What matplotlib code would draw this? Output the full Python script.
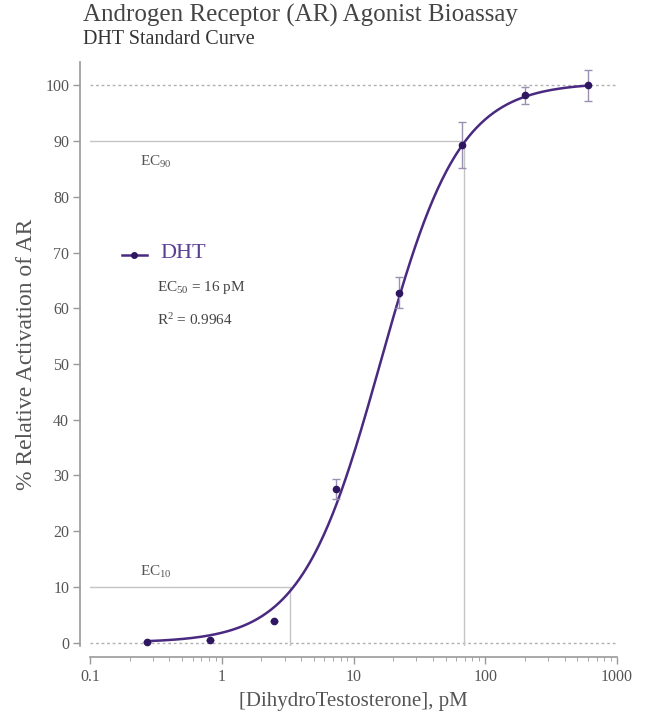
import numpy as np
import matplotlib
matplotlib.use("Agg")
import matplotlib.pyplot as plt

plt.rcParams['font.family'] = ['Liberation Serif', 'DejaVu Serif']
plt.rcParams['mathtext.fontset'] = 'custom'
plt.rcParams['mathtext.rm'] = 'Liberation Serif'
plt.rcParams['mathtext.it'] = 'Liberation Serif:italic'
plt.rcParams['mathtext.bf'] = 'Liberation Serif:bold'

# ---- data ----
conc_pM = [0.27, 0.82, 2.5, 7.4, 22, 67, 200, 600]
activation = [0.2, 0.5, 3.8, 27.6, 62.8, 89.3, 98.2, 100.0]
errors = [0.0, 0.0, 0.0, 1.8, 2.8, 4.2, 1.6, 2.7]
ec50 = 16.0
hill = 1.45
bottom_fit = 0.0
top_fit = 100.5
ec10 = 3.3
ec90 = 69.0
r2 = "0.9964"
x_ticks = [0.1, 1, 10, 100, 1000]
x_ticklabels = ["0.1", "1", "10", "100", "1000"]
y_ticks = list(range(0, 101, 10))

purple = "#4a2a80"
dark_purple = "#2e1760"
gray_txt = "#555555"

fig = plt.figure(figsize=(6.5, 7.2), dpi=100)
ax = fig.add_axes([90/650, 0.1028, (617-90)/650, 0.811])

# reference lines
ax.axhline(100, color="#b0b0b0", lw=1.0, ls=(0, (2, 2)), zorder=1)
ax.axhline(0, color="#b0b0b0", lw=1.0, ls=(0, (2, 2)), zorder=1)
ax.plot([0.1, ec90], [90, 90], color="#c4c4c4", lw=1.0, zorder=1)
ax.plot([ec90, ec90], [-0.6, 90], color="#c4c4c4", lw=1.0, zorder=1)
ax.plot([0.1, ec10], [10, 10], color="#c4c4c4", lw=1.0, zorder=1)
ax.plot([ec10, ec10], [-0.6, 10], color="#c4c4c4", lw=1.0, zorder=1)

# fitted curve
xs = np.logspace(np.log10(conc_pM[0]), np.log10(conc_pM[-1]), 400)
ys = bottom_fit + (top_fit - bottom_fit) / (1 + (ec50 / xs) ** hill)
ax.plot(xs, ys, color=purple, lw=1.8, zorder=3)

# data points with error bars
ax.errorbar(conc_pM, activation, yerr=errors, fmt="o", color=dark_purple,
            ms=4.5, ecolor="#9a90b0", elinewidth=1.0, capsize=3, capthick=1.0, zorder=4)

ax.set_xscale("log")
ax.set_xlim(0.1, 1000)
ax.set_ylim(-0.6, 104.2)
ax.set_xticks(x_ticks)
ax.set_xticklabels(x_ticklabels)
ax.set_yticks(y_ticks)

for s in ["top", "right"]:
    ax.spines[s].set_visible(False)
ax.spines["left"].set_position(("outward", 7))
ax.spines["bottom"].set_position(("outward", 8))
for s in ["left", "bottom"]:
    ax.spines[s].set_color("#999999")
    ax.spines[s].set_linewidth(1.2)
ax.tick_params(axis="both", colors="#999999", labelcolor=gray_txt, labelsize=11.5,
               length=5, width=1.0)
ax.tick_params(axis="y", pad=3)
ax.tick_params(axis="x", which="minor", length=3, color="#999999")

ax.set_xlabel("[DihydroTestosterone], pM", fontsize=15, color=gray_txt, labelpad=5)
ax.set_ylabel("% Relative Activation of AR", fontsize=17, color=gray_txt, labelpad=6)

# annotations
ax.text(0.24, 86.3, r"EC$_{90}$", fontsize=11, color=gray_txt, va="center")
ax.text(0.24, 12.6, r"EC$_{10}$", fontsize=11, color=gray_txt, va="center")

# legend-like label
ax.plot([0.175, 0.27], [69.5, 69.5], color=purple, lw=1.8)
ax.plot([0.2175], [69.5], "o", color=dark_purple, ms=4)
ax.text(0.345, 69.8, "DHT", fontsize=16, color="#5a3f93", va="center")
ax.text(0.32, 63.8, "EC$_{50}$ = 16 pM", fontsize=11, color="#444444", va="center")
ax.text(0.32, 57.9, "R$^2$ = " + r2, fontsize=11, color="#444444", va="center")

fig.text(83/650, 1 - 15/720, "Androgen Receptor (AR) Agonist Bioassay", fontsize=18,
         color="#444444", va="center", ha="left")
fig.text(83/650, 1 - 40/720, "DHT Standard Curve", fontsize=14.5, color="#333333",
         va="center", ha="left")

fig.savefig("out.png", dpi=100)
